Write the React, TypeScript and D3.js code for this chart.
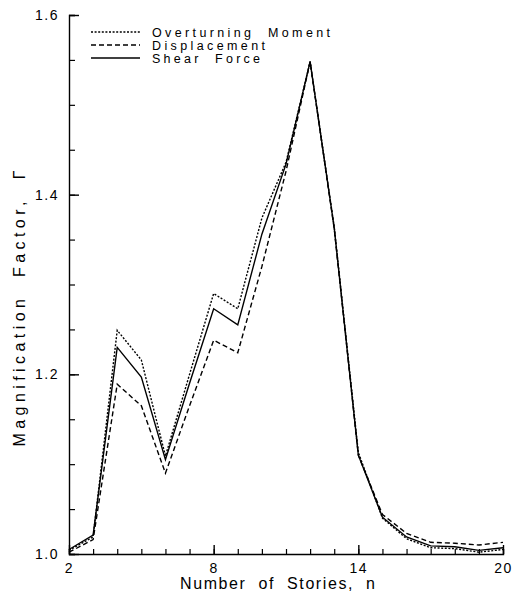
import { useEffect, useRef } from 'react'
import * as d3 from 'd3'

const STORIES = [2, 3, 4, 5, 6, 7, 8, 9, 10, 11, 12, 13, 14, 15, 16, 17, 18, 19, 20]
const OVERTURNING = [1.004, 1.019, 1.249, 1.216, 1.109, 1.2, 1.29, 1.273, 1.374, 1.436, 1.548, 1.364, 1.113, 1.04, 1.017, 1.007, 1.006, 1.002, 1.005]
const DISPLACEMENT = [1.002, 1.016, 1.189, 1.165, 1.09, 1.165, 1.238, 1.224, 1.32, 1.426, 1.548, 1.362, 1.11, 1.044, 1.023, 1.013, 1.012, 1.01, 1.013]
const SHEAR = [1.005, 1.021, 1.23, 1.197, 1.105, 1.19, 1.273, 1.255, 1.356, 1.434, 1.548, 1.363, 1.11, 1.041, 1.019, 1.009, 1.008, 1.004, 1.007]

const SERIES = [
  { label: 'Overturning  Moment', values: OVERTURNING, dash: '2,1.6', width: 178 },
  { label: 'Displacement', values: DISPLACEMENT, dash: '5,3', width: 113 },
  { label: 'Shear  Force', values: SHEAR, dash: null, width: 108 },
]

const X_MAJOR = [2, 8, 14, 20]
const Y_MAJOR = [1.0, 1.2, 1.4, 1.6]

const WIDTH = 514
const HEIGHT = 598
const MARGIN = { top: 15, right: 11, bottom: 44, left: 69 }
const FONT = 'Liberation Sans, Arial, sans-serif'

export default function App() {
  const svgRef = useRef<SVGSVGElement>(null)

  useEffect(() => {
    const svg = d3.select(svgRef.current)
    svg.selectAll('*').remove()

    const innerWidth = WIDTH - MARGIN.left - MARGIN.right
    const innerHeight = HEIGHT - MARGIN.top - MARGIN.bottom

    const x = d3.scaleLinear([2, 20], [0, innerWidth])
    const y = d3.scaleLinear([1.0, 1.6], [innerHeight, 0])

    const g = svg.append('g').attr('transform', `translate(${MARGIN.left},${MARGIN.top})`)

    // ── Axes (ticks point inward) ─────────────────────────────────────────────
    const xMinor = d3.range(2, 21, 1)
    g.append('g')
      .attr('transform', `translate(0,${innerHeight})`)
      .call(d3.axisBottom(x).tickValues(xMinor).tickSize(-5).tickFormat(() => ''))
      .call(ag => ag.select('.domain').attr('stroke', '#000').attr('stroke-width', 1.4))
      .call(ag => ag.selectAll('.tick line').attr('stroke', '#000').attr('stroke-width', 1.2))

    g.append('g')
      .attr('transform', `translate(0,${innerHeight})`)
      .call(d3.axisBottom(x).tickValues(X_MAJOR).tickSize(-9).tickPadding(9).tickFormat(d3.format('d')))
      .call(ag => ag.select('.domain').remove())
      .call(ag => ag.selectAll('.tick line').attr('stroke', '#000').attr('stroke-width', 1.4))
      .call(ag => ag.selectAll('text').attr('fill', '#000').attr('font-size', 14)
        .attr('font-family', FONT).attr('letter-spacing', 1.5))

    const yMinor = d3.range(0, 13).map(i => 1 + i * 0.05)
    g.append('g')
      .call(d3.axisLeft(y).tickValues(yMinor).tickSize(-6).tickFormat(() => ''))
      .call(ag => ag.select('.domain').attr('stroke', '#000').attr('stroke-width', 1.4))
      .call(ag => ag.selectAll('.tick line').attr('stroke', '#000').attr('stroke-width', 1.2))

    g.append('g')
      .call(d3.axisLeft(y).tickValues(Y_MAJOR).tickSize(-10).tickPadding(10).tickFormat(d3.format('.1f')))
      .call(ag => ag.select('.domain').remove())
      .call(ag => ag.selectAll('.tick line').attr('stroke', '#000').attr('stroke-width', 1.4))
      .call(ag => ag.selectAll('text').attr('fill', '#000').attr('font-size', 14)
        .attr('font-family', FONT).attr('letter-spacing', 1.5))

    // ── Axis titles ───────────────────────────────────────────────────────────
    g.append('text')
      .attr('x', 111).attr('y', innerHeight + 35)
      .attr('font-size', 16).attr('font-family', FONT)
      .attr('fill', '#000').attr('xml:space', 'preserve')
      .attr('textLength', 195).attr('lengthAdjust', 'spacing')
      .text('Number  of  Stories,  n')

    g.append('text')
      .attr('transform', `translate(${-44},${y(1.3) + 24 + 138}) rotate(-90)`)
      .attr('font-size', 16).attr('font-family', FONT)
      .attr('fill', '#000').attr('xml:space', 'preserve')
      .attr('textLength', 276).attr('lengthAdjust', 'spacing')
      .text('Magnification  Factor,  Γ')

    // ── Lines ─────────────────────────────────────────────────────────────────
    const line = d3.line<number>()
      .x((_, i) => x(STORIES[i]))
      .y(d => y(d))

    SERIES.forEach(s => {
      g.append('path')
        .attr('d', line(s.values) ?? '')
        .attr('fill', 'none').attr('stroke', '#000')
        .attr('stroke-width', 1.4)
        .attr('stroke-dasharray', s.dash ?? null)
    })

    // ── Legend ────────────────────────────────────────────────────────────────
    SERIES.forEach((s, i) => {
      const ly = 17 + i * 13
      g.append('line')
        .attr('x1', 22).attr('x2', 71)
        .attr('y1', ly).attr('y2', ly)
        .attr('stroke', '#000').attr('stroke-width', 1.4)
        .attr('stroke-dasharray', s.dash ?? null)
      g.append('text')
        .attr('x', 83).attr('y', ly + 5)
        .attr('font-size', 12.5).attr('font-family', FONT).attr('fill', '#000')
        .attr('xml:space', 'preserve')
        .attr('textLength', s.width).attr('lengthAdjust', 'spacing')
        .text(s.label)
    })
  }, [])

  return (
    <svg
      ref={svgRef}
      width={WIDTH}
      height={HEIGHT}
      style={{ position: 'absolute', left: 0, top: 0, background: '#fff' }}
    />
  )
}
